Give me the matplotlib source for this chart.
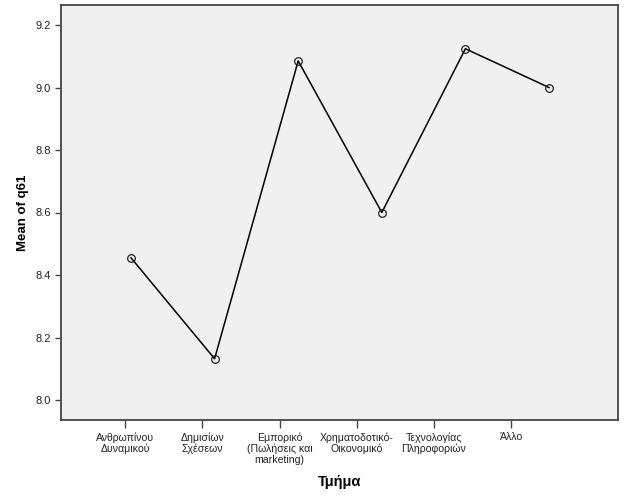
import matplotlib
matplotlib.use("Agg")
import matplotlib.pyplot as plt
import numpy as np

categories = ["Ανθρωπίνου\nΔυναμικού", "Δημισίων\nΣχέσεων", "Εμπορικό\n(Πωλήσεις και\nmarketing)",
              "Χρηματοδοτικό-\nΟικονομικό", "Τεχνολογίας\nΠληροφοριών", "Άλλο"]
means = [8.455, 8.132, 9.085, 8.600, 9.124, 9.000]
yticks = [8.0, 8.2, 8.4, 8.6, 8.8, 9.0, 9.2]

plt.rcParams['font.family'] = ['Liberation Sans', 'DejaVu Sans']

fig = plt.figure(figsize=(6.26, 5.01), dpi=100)
ax = fig.add_axes([61/626, 81/501, 557/626, 415/501])
ax.set_facecolor('#f0f0f0')

x = np.arange(len(categories))
ax.plot(x, means, color='black', lw=1.1, marker='o', markersize=5.5,
        markerfacecolor='none', markeredgecolor='#222222', markeredgewidth=0.9)

ax.set_xlim(-0.837, 5.825)
ax.set_ylim(7.936, 9.264)
ax.set_yticks(yticks)
ax.set_yticklabels([f"{v:.1f}" for v in yticks], fontsize=8, color='#222222')
# SPSS places category ticks slightly offset from the plotted points
tickpos = -0.068 + 0.923 * x
ax.set_xticks(tickpos)
ax.set_xticklabels(categories, fontsize=7.6, linespacing=1.1, color='#222222')

for s in ax.spines.values():
    s.set_color('#444444')
    s.set_linewidth(1.3)
ax.tick_params(axis='y', direction='out', length=4.5, width=1, color='#444444', pad=3)
ax.tick_params(axis='x', direction='out', length=6, width=1, color='#444444', pad=3)

ax.set_ylabel("Mean of q61", fontsize=9.5, fontweight='bold', va='center')
ax.yaxis.set_label_coords(-38/557, 0.5)
ax.set_xlabel("Τμήμα", fontsize=10.5, fontweight='bold', va='center')
ax.xaxis.set_label_coords(0.5, -62/415)

fig.savefig("out.png", dpi=100, facecolor='white')
